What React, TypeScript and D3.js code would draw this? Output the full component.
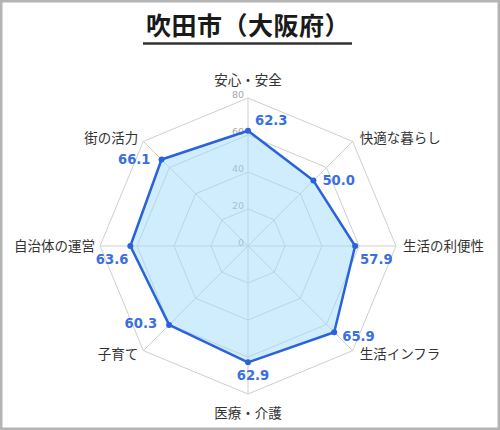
import { useEffect, useRef } from "react";
import * as d3 from "d3";

const title = "吹田市（大阪府）";
const categories = [
  "安心・安全",
  "快適な暮らし",
  "生活の利便性",
  "生活インフラ",
  "医療・介護",
  "子育て",
  "自治体の運営",
  "街の活力",
];
const scores = [62.3, 50.0, 57.9, 65.9, 62.9, 60.3, 63.6, 66.1];
const ticks = [0, 20, 40, 60, 80];

// where each value label sits relative to its point
const valueNudge: Array<[string, number, number]> = [
  ["start", 7, -10],
  ["start", 9, 0],
  ["start", 5, 13],
  ["start", 8, 4],
  ["middle", 5, 13],
  ["end", -12, -2],
  ["end", -2, 13],
  ["end", -11, 0],
];

const W = 500;
const H = 430;
const cx = 248;
const cy = 246;
const R = 148;
const jp = "'Noto Sans CJK JP', 'Noto Sans', sans-serif";
const num = "'DejaVu Sans', 'Noto Sans', sans-serif";

export default function App() {
  const svgRef = useRef<SVGSVGElement | null>(null);

  useEffect(() => {
    const svg = d3.select(svgRef.current);
    svg.selectAll("*").remove();

    svg
      .append("rect")
      .attr("x", 1.25)
      .attr("y", 1.25)
      .attr("width", W - 2.5)
      .attr("height", H - 2.5)
      .attr("fill", "#fff")
      .attr("stroke", "#b4b4b4")
      .attr("stroke-width", 2.5);

    const t = svg
      .append("text")
      .attr("x", cx)
      .attr("y", 35)
      .attr("text-anchor", "middle")
      .attr("font-family", jp)
      .attr("font-weight", 700)
      .attr("font-size", 25)
      .attr("letter-spacing", 0.5)
      .attr("fill", "#1a1a1a")
      .text(title);
    const bb = (t.node() as SVGTextElement).getBBox();
    svg
      .append("line")
      .attr("x1", bb.x - 3)
      .attr("x2", bb.x + bb.width + 2)
      .attr("y1", 43.5)
      .attr("y2", 43.5)
      .attr("stroke", "#333")
      .attr("stroke-width", 2.5);

    const r = d3.scaleLinear().domain([0, 80]).range([0, R]);
    const n = categories.length;
    const ang = (i: number) => (i * 2 * Math.PI) / n;
    const pt = (i: number, v: number): [number, number] => [
      Math.sin(ang(i)) * r(v),
      -Math.cos(ang(i)) * r(v),
    ];

    const g = svg.append("g").attr("transform", `translate(${cx},${cy})`);

    const ring = d3
      .lineRadial<number>()
      .angle((_, i) => ang(i))
      .curve(d3.curveLinearClosed);

    // grid rings
    ticks.slice(1).forEach((tv) => {
      g.append("path")
        .attr("d", ring.radius(() => r(tv))(categories.map(() => tv)) ?? "")
        .attr("fill", "none")
        .attr("stroke", "#cfcfcf")
        .attr("stroke-width", 1);
    });
    // spokes
    categories.forEach((_, i) => {
      const [x, y] = pt(i, 80);
      g.append("line")
        .attr("x1", 0)
        .attr("y1", 0)
        .attr("x2", x)
        .attr("y2", y)
        .attr("stroke", "#cfcfcf")
        .attr("stroke-width", 1);
    });

    // tick labels
    ticks.forEach((tv) => {
      g.append("text")
        .attr("x", -4)
        .attr("y", -r(tv) - 3)
        .attr("dy", "0.35em")
        .attr("text-anchor", "end")
        .attr("font-family", num)
        .attr("font-size", 9.5)
        .attr("fill", "#a6a6a6")
        .text(tv);
    });

    // data polygon
    g.append("path")
      .attr("d", ring.radius((d) => r(d))(scores) ?? "")
      .attr("fill", "rgba(160,220,250,0.5)")
      .attr("stroke", "#2b62d9")
      .attr("stroke-width", 2.5)
      .attr("stroke-linejoin", "round");

    scores.forEach((v, i) => {
      const [x, y] = pt(i, v);
      g.append("circle")
        .attr("cx", x)
        .attr("cy", y)
        .attr("r", 3)
        .attr("fill", "#2b62d9");
      const [anchor, dx, dy] = valueNudge[i];
      g.append("text")
        .attr("x", x + dx)
        .attr("y", y + dy)
        .attr("dy", "0.35em")
        .attr("text-anchor", anchor)
        .attr("font-family", num)
        .attr("font-weight", 700)
        .attr("font-size", 13.2)
        .attr("fill", "#3a6fe2")
        .text(v.toFixed(1));
    });

    // category labels
    categories.forEach((c, i) => {
      const [x, y] = pt(i, 80);
      const s = Math.sin(ang(i));
      const co = Math.cos(ang(i));
      let anchor = "middle";
      let lx = x;
      let ly = y;
      if (s > 0.1) {
        anchor = "start";
        lx = x + 7;
        ly = y - co * 5;
      } else if (s < -0.1) {
        anchor = "end";
        lx = x - 5;
        ly = y - co * 5;
      } else {
        ly = y + (co > 0 ? -18 : 19);
      }
      g.append("text")
        .attr("x", lx)
        .attr("y", ly)
        .attr("dy", "0.35em")
        .attr("text-anchor", anchor)
        .attr("font-family", jp)
        .attr("font-size", 13.5)
        .attr("fill", "#333")
        .text(c);
    });
  }, []);

  return (
    <>
      <style>{`body{margin:0}`}</style>
      <svg ref={svgRef} width={W} height={H} style={{ display: "block" }} />
    </>
  );
}
